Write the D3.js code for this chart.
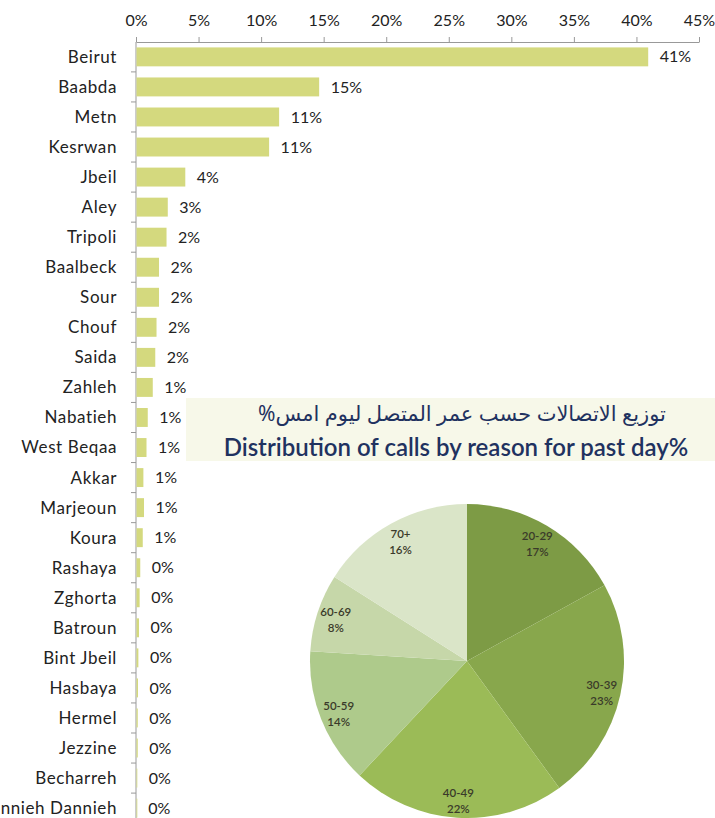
<!DOCTYPE html>
<html><head><meta charset="utf-8">
<script src="https://cdn.jsdelivr.net/npm/d3@7"></script>
<style>body{margin:0;background:#fff}svg{display:block}</style>
</head><body>
<svg id="c" width="715" height="818"></svg>
<script>
const districts = ["Beirut","Baabda","Metn","Kesrwan","Jbeil","Aley","Tripoli","Baalbeck","Sour","Chouf","Saida","Zahleh","Nabatieh","West Beqaa","Akkar","Marjeoun","Koura","Rashaya","Zghorta","Batroun","Bint Jbeil","Hasbaya","Hermel","Jezzine","Becharreh","Minnieh Dannieh"];
const shares = [40.9,14.6,11.4,10.6,3.9,2.5,2.4,1.8,1.8,1.6,1.5,1.3,0.9,0.8,0.55,0.6,0.5,0.3,0.25,0.2,0.15,0.12,0.1,0.1,0.05,0.02];
const xTicks = [0,5,10,15,20,25,30,35,40,45];
const ageGroups = ["20-29","30-39","40-49","50-59","60-69","70+"];
const ageShares = [17,23,22,14,8,16];
const ageColors = ["#7d9b45","#88a74c","#9bbb57","#aeca8b","#c6d7a9","#dae5c8"];
const titleAr = "توزيع الاتصالات حسب عمر المتصل ليوم امس%";
const titleEn = "Distribution of calls by reason for past day%";

const svg = d3.select("#c");
const font = "Lato, 'Open Sans', sans-serif";

// Bar chart
const x = d3.scaleLinear().domain([0,45]).range([136,699]);
const y = d3.scaleBand().domain(districts).range([42,823]).paddingInner(0.37).paddingOuter(0.18);

const xAxis = svg.append("g").attr("transform","translate(0,42)")
  .call(d3.axisTop(x).tickValues(xTicks).tickFormat(d=>d+"%").tickSize(5).tickSizeOuter(0));
xAxis.select(".domain").attr("stroke","#999");
xAxis.selectAll(".tick line").attr("stroke","#999");
xAxis.selectAll("text").attr("font-family",font).attr("font-size",16).attr("fill","#222").attr("dy","-0.5em");

svg.append("line").attr("x1",136).attr("x2",136).attr("y1",42).attr("y2",818).attr("stroke","#999");
const step = y.step();
svg.append("g").selectAll("line").data(districts.slice(1)).join("line")
  .attr("x1",131).attr("x2",136)
  .attr("y1",d=>y(d)-step*y.paddingInner()/2).attr("y2",d=>y(d)-step*y.paddingInner()/2)
  .attr("stroke","#999");

svg.append("g").selectAll("rect").data(districts).join("rect")
  .attr("x",x(0)+0.5).attr("y",d=>y(d))
  .attr("width",(d,i)=>Math.max(0.8,x(shares[i])-x(0)))
  .attr("height",y.bandwidth()).attr("fill","#d4d97e");

svg.append("g").selectAll("text").data(districts).join("text")
  .attr("x",117).attr("y",d=>y(d)+y.bandwidth()/2).attr("dy","0.35em")
  .attr("text-anchor","end").attr("font-family",font).attr("font-size",17).attr("letter-spacing","0.6px").attr("fill","#222")
  .text(d=>d);

svg.append("g").selectAll("text").data(districts).join("text")
  .attr("x",(d,i)=>x(shares[i])+12).attr("y",d=>y(d)+y.bandwidth()/2).attr("dy","0.35em")
  .attr("font-family",font).attr("font-size",16).attr("fill","#222")
  .text((d,i)=>Math.round(shares[i])+"%");

// Title box
svg.append("rect").attr("x",186).attr("y",398).attr("width",529).attr("height",63).attr("fill","#f7f8e9");
svg.append("text").attr("x",462).attr("y",421).attr("text-anchor","middle").attr("direction","rtl")
  .attr("font-family","'Noto Sans', 'DejaVu Sans', sans-serif").attr("font-size",21).attr("fill","#1f3260").text(titleAr);
svg.append("text").attr("x",456).attr("y",456).attr("text-anchor","middle")
  .attr("font-family",font).attr("font-size",24).attr("font-weight",600).attr("fill","#1f3260").text(titleEn);

// Pie
const pieData = d3.pie().sort(null).value((d,i)=>ageShares[i])(ageGroups);
const r = 157;
const arc = d3.arc().innerRadius(0).outerRadius(r);
const labelArc = d3.arc().innerRadius(138).outerRadius(138);
const pg = svg.append("g").attr("transform","translate(467,661)");
pg.selectAll("path").data(pieData).join("path").attr("d",arc).attr("fill",(d,i)=>ageColors[i]);
const lg = pg.selectAll("g.lbl").data(pieData).join("g").attr("class","lbl")
  .attr("transform",d=>"translate("+labelArc.centroid(d)+")");
lg.append("text").attr("text-anchor","middle").attr("y",-2).attr("font-family",font).attr("font-size",11.5).attr("font-weight",600).attr("fill","#3a3a2a").text(d=>d.data);
lg.append("text").attr("text-anchor","middle").attr("y",14).attr("font-family",font).attr("font-size",11.5).attr("font-weight",600).attr("fill","#3a3a2a").text(d=>d.value+"%");
</script>
</body></html>
